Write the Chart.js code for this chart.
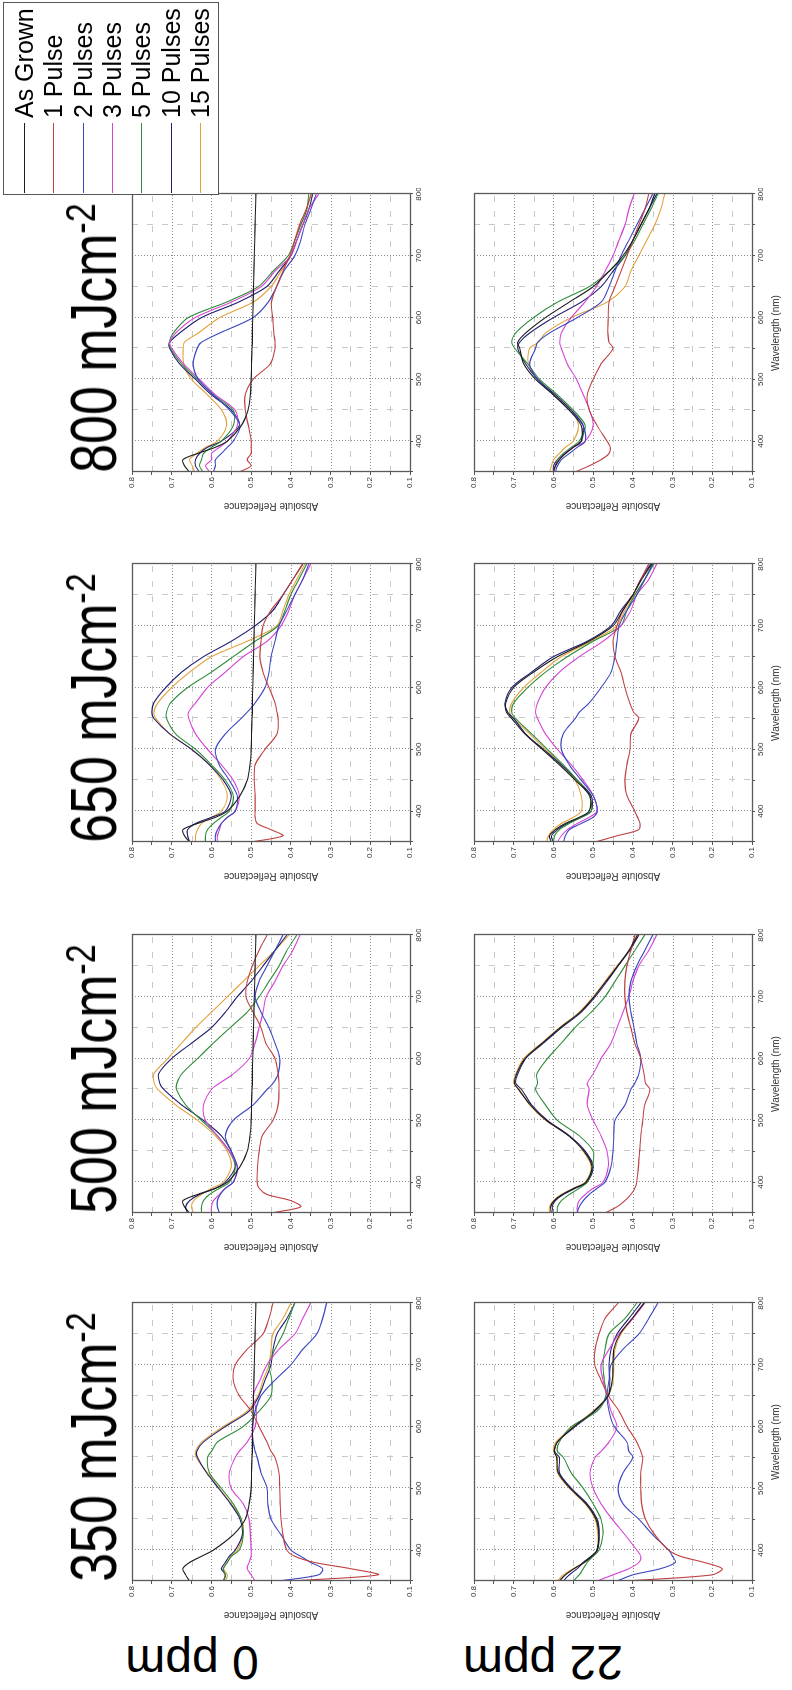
<!DOCTYPE html>
<html lang="en">
<head>
<meta charset="UTF-8">
<title>Absolute reflectance after laser pulses</title>
<script src="https://cdn.jsdelivr.net/npm/chart.js"></script>
<style>
  html, body { margin: 0; padding: 0; background: #fff; }
  body {
    width: 792px; height: 1690px; overflow: hidden; position: relative;
    font-family: Arial, "Liberation Sans", sans-serif; color: #000;
  }
  /* figure is laid out landscape, then turned a quarter turn */
  #figure {
    position: absolute; left: 0; top: 0;
    width: 1690px; height: 792px;
    transform-origin: 0 0;
    transform: translate(0px, 1690px) rotate(-90deg);
  }
  .panel { position: absolute; }
  .fluence {
    position: absolute; top: 62px;
    font-size: 64px; line-height: 64px; white-space: nowrap;
    transform: translateX(-50%) scaleX(0.81);
  }
  .fluence .sup { font-size: 42px; position: relative; top: -21px; }
  .ppm {
    position: absolute; font-size: 48px; line-height: 48px; white-space: nowrap;
    transform: translate(-50%, -50%) rotate(-90deg);
  }
  #legend {
    position: absolute; left: 1495px; top: 3px; width: 193px; height: 216px;
    border: 1px solid #555; box-sizing: border-box; background: #fff;
  }
  #legend .item { position: absolute; left: 0; height: 28px; width: 100%; }
  #legend .swatch { position: absolute; left: 1px; top: 14px; width: 70px; height: 1px; }
  #legend .name { position: absolute; left: 76px; top: 0; font-size: 25px; line-height: 28px; white-space: nowrap; }
</style>
</head>
<body>
<div id="figure"></div>

<script>
// wavelength samples (nm) shared by every curve
const wavelengths = [350, 360, 370, 380, 390, 400, 425, 450, 475, 500, 525, 550, 560, 575, 600, 625, 650, 675, 700, 725, 750, 775, 800];

const seriesNames = ['As Grown', '1 Pulse', '2 Pulses', '3 Pulses', '5 Pulses', '10 Pulses', '15 Pulses'];
const seriesColors = ['#1c1c1c', '#bf4040', '#3b46c2', '#d642d6', '#2f8c3a', '#1f1f70', '#e3a23c'];

const fluences = ['350', '500', '650', '800'];
const dopings = ['0 ppm', '22 ppm'];

// reflectance, one row per series in seriesNames order
const ppm0_350 = [
  [0.655, 0.665, 0.672, 0.655, 0.625, 0.595, 0.545, 0.515, 0.505, 0.5, 0.499, 0.498, 0.497, 0.497, 0.496, 0.495, 0.494, 0.493, 0.492, 0.491, 0.49, 0.489, 0.488],
  [0.4, 0.18, 0.25, 0.34, 0.39, 0.41, 0.42, 0.425, 0.427, 0.428, 0.43, 0.44, 0.45, 0.46, 0.48, 0.5, 0.53, 0.545, 0.54, 0.51, 0.47, 0.455, 0.445],
  [0.43, 0.33, 0.32, 0.35, 0.375, 0.4, 0.425, 0.45, 0.458, 0.46, 0.475, 0.485, 0.49, 0.495, 0.497, 0.49, 0.475, 0.44, 0.4, 0.37, 0.335, 0.32, 0.31],
  [0.49, 0.5, 0.51, 0.505, 0.5, 0.5, 0.502, 0.505, 0.52, 0.55, 0.555, 0.54, 0.53, 0.51, 0.49, 0.487, 0.495, 0.478, 0.46, 0.43, 0.39, 0.37, 0.35],
  [0.57, 0.565, 0.57, 0.56, 0.55, 0.53, 0.52, 0.525, 0.545, 0.575, 0.605, 0.61, 0.6, 0.585, 0.52, 0.48, 0.45, 0.448, 0.455, 0.44, 0.42, 0.405, 0.39],
  [0.57, 0.565, 0.575, 0.565, 0.555, 0.54, 0.522, 0.528, 0.552, 0.582, 0.612, 0.635, 0.637, 0.62, 0.565, 0.505, 0.48, 0.465, 0.45, 0.445, 0.435, 0.41, 0.39],
  [0.565, 0.56, 0.57, 0.56, 0.55, 0.535, 0.52, 0.525, 0.55, 0.58, 0.61, 0.638, 0.64, 0.625, 0.57, 0.51, 0.483, 0.47, 0.455, 0.45, 0.445, 0.42, 0.4]
];
const ppm22_350 = [
  [0.585, 0.57, 0.548, 0.522, 0.503, 0.49, 0.486, 0.493, 0.518, 0.558, 0.588, 0.592, 0.598, 0.59, 0.548, 0.498, 0.462, 0.452, 0.45, 0.448, 0.432, 0.402, 0.372],
  [0.42, 0.2, 0.175, 0.22, 0.28, 0.31, 0.345, 0.368, 0.378, 0.38, 0.38, 0.375, 0.38, 0.39, 0.415, 0.435, 0.462, 0.48, 0.496, 0.495, 0.485, 0.47, 0.437],
  [0.44, 0.4, 0.33, 0.293, 0.3, 0.31, 0.35, 0.385, 0.425, 0.437, 0.425, 0.4, 0.41, 0.415, 0.447, 0.46, 0.465, 0.46, 0.455, 0.425, 0.385, 0.36, 0.337],
  [0.49, 0.45, 0.41, 0.385, 0.38, 0.39, 0.42, 0.452, 0.48, 0.5, 0.508, 0.495, 0.48, 0.46, 0.44, 0.455, 0.465, 0.475, 0.48, 0.46, 0.435, 0.4, 0.37],
  [0.55, 0.535, 0.525, 0.515, 0.5, 0.485, 0.475, 0.48, 0.5, 0.525, 0.555, 0.575, 0.59, 0.585, 0.555, 0.49, 0.468, 0.472, 0.475, 0.47, 0.46, 0.42, 0.39],
  [0.575, 0.56, 0.54, 0.525, 0.505, 0.49, 0.485, 0.49, 0.515, 0.555, 0.585, 0.585, 0.597, 0.59, 0.545, 0.495, 0.462, 0.458, 0.46, 0.455, 0.44, 0.41, 0.38],
  [0.59, 0.575, 0.55, 0.525, 0.505, 0.49, 0.488, 0.495, 0.52, 0.56, 0.59, 0.59, 0.6, 0.594, 0.55, 0.5, 0.462, 0.45, 0.448, 0.445, 0.43, 0.4, 0.37]
];
const ppm0_500 = [
  [0.655, 0.668, 0.672, 0.635, 0.59, 0.56, 0.528, 0.51, 0.503, 0.5, 0.499, 0.498, 0.497, 0.497, 0.496, 0.495, 0.494, 0.493, 0.492, 0.491, 0.49, 0.489, 0.488],
  [0.45, 0.375, 0.4, 0.46, 0.48, 0.485, 0.484, 0.48, 0.472, 0.445, 0.432, 0.43, 0.43, 0.432, 0.44, 0.463, 0.475, 0.495, 0.513, 0.51, 0.497, 0.48, 0.46],
  [0.58, 0.585, 0.585, 0.578, 0.565, 0.545, 0.535, 0.55, 0.565, 0.545, 0.495, 0.46, 0.445, 0.432, 0.428, 0.44, 0.455, 0.475, 0.49, 0.48, 0.46, 0.44, 0.42],
  [0.6, 0.6, 0.595, 0.58, 0.565, 0.545, 0.535, 0.555, 0.585, 0.615, 0.62, 0.6, 0.58, 0.545, 0.505, 0.49, 0.48, 0.47, 0.462, 0.44, 0.42, 0.395, 0.377],
  [0.625, 0.625, 0.62, 0.605, 0.58, 0.555, 0.54, 0.555, 0.585, 0.625, 0.665, 0.688, 0.687, 0.675, 0.635, 0.595, 0.553, 0.51, 0.48, 0.455, 0.43, 0.41, 0.385],
  [0.66, 0.665, 0.655, 0.63, 0.59, 0.565, 0.54, 0.55, 0.575, 0.62, 0.675, 0.72, 0.73, 0.733, 0.7, 0.65, 0.6, 0.565, 0.535, 0.5, 0.47, 0.44, 0.41],
  [0.645, 0.65, 0.645, 0.625, 0.6, 0.57, 0.55, 0.56, 0.59, 0.635, 0.69, 0.735, 0.744, 0.745, 0.71, 0.675, 0.64, 0.6, 0.56, 0.52, 0.48, 0.44, 0.405]
];
const ppm22_500 = [
  [0.605, 0.607, 0.598, 0.578, 0.548, 0.518, 0.503, 0.523, 0.562, 0.618, 0.658, 0.688, 0.698, 0.693, 0.672, 0.628, 0.583, 0.533, 0.498, 0.468, 0.438, 0.41, 0.388],
  [0.47, 0.44, 0.42, 0.405, 0.395, 0.39, 0.386, 0.383, 0.38, 0.375, 0.37, 0.357, 0.368, 0.372, 0.38, 0.395, 0.405, 0.415, 0.42, 0.42, 0.415, 0.405, 0.395],
  [0.54, 0.535, 0.525, 0.51, 0.49, 0.47, 0.455, 0.45, 0.448, 0.445, 0.42, 0.405, 0.395, 0.385, 0.38, 0.39, 0.397, 0.405, 0.41, 0.405, 0.39, 0.37, 0.35],
  [0.54, 0.54, 0.535, 0.52, 0.5, 0.475, 0.462, 0.465, 0.48, 0.5, 0.515, 0.51, 0.515, 0.5, 0.48, 0.455, 0.44, 0.425, 0.41, 0.4, 0.385, 0.36, 0.34],
  [0.59, 0.59, 0.58, 0.56, 0.535, 0.515, 0.502, 0.5, 0.535, 0.59, 0.62, 0.645, 0.64, 0.642, 0.615, 0.58, 0.546, 0.505, 0.47, 0.445, 0.42, 0.395, 0.37],
  [0.6, 0.603, 0.595, 0.575, 0.545, 0.515, 0.5, 0.52, 0.56, 0.615, 0.655, 0.68, 0.695, 0.69, 0.67, 0.625, 0.58, 0.53, 0.495, 0.465, 0.437, 0.408, 0.385],
  [0.61, 0.61, 0.6, 0.58, 0.55, 0.52, 0.505, 0.525, 0.56, 0.62, 0.66, 0.685, 0.7, 0.695, 0.675, 0.63, 0.585, 0.535, 0.5, 0.47, 0.44, 0.41, 0.39]
];
const ppm0_650 = [
  [0.655, 0.668, 0.672, 0.635, 0.59, 0.56, 0.528, 0.51, 0.503, 0.5, 0.499, 0.498, 0.497, 0.497, 0.496, 0.495, 0.494, 0.493, 0.492, 0.491, 0.49, 0.489, 0.488],
  [0.5, 0.42, 0.45, 0.485, 0.49, 0.49, 0.49, 0.492, 0.49, 0.465, 0.435, 0.432, 0.435, 0.44, 0.455, 0.47, 0.478, 0.475, 0.47, 0.45, 0.42, 0.395, 0.37],
  [0.59, 0.59, 0.585, 0.575, 0.56, 0.54, 0.535, 0.555, 0.58, 0.59, 0.565, 0.525, 0.51, 0.49, 0.465, 0.455, 0.45, 0.44, 0.43, 0.41, 0.39, 0.37, 0.355],
  [0.585, 0.585, 0.58, 0.575, 0.56, 0.54, 0.53, 0.545, 0.575, 0.61, 0.64, 0.657, 0.658, 0.64, 0.61, 0.565, 0.52, 0.46, 0.425, 0.405, 0.39, 0.37, 0.35],
  [0.615, 0.615, 0.61, 0.595, 0.575, 0.555, 0.545, 0.565, 0.6, 0.64, 0.69, 0.713, 0.713, 0.703, 0.66, 0.6, 0.545, 0.49, 0.432, 0.415, 0.4, 0.38, 0.36],
  [0.655, 0.66, 0.66, 0.64, 0.6, 0.565, 0.55, 0.57, 0.605, 0.65, 0.705, 0.745, 0.75, 0.745, 0.715, 0.675, 0.62, 0.55, 0.49, 0.445, 0.42, 0.395, 0.37],
  [0.64, 0.64, 0.635, 0.625, 0.6, 0.575, 0.56, 0.575, 0.605, 0.65, 0.705, 0.74, 0.745, 0.735, 0.7, 0.655, 0.6, 0.51, 0.435, 0.42, 0.405, 0.385, 0.365]
];
const ppm22_650 = [
  [0.605, 0.61, 0.595, 0.57, 0.535, 0.51, 0.508, 0.545, 0.585, 0.628, 0.672, 0.705, 0.718, 0.72, 0.7, 0.65, 0.59, 0.51, 0.45, 0.425, 0.4, 0.378, 0.352],
  [0.495, 0.44, 0.385, 0.382, 0.388, 0.395, 0.415, 0.42, 0.415, 0.407, 0.405, 0.385, 0.398, 0.408, 0.42, 0.43, 0.445, 0.45, 0.44, 0.425, 0.4, 0.38, 0.36],
  [0.575, 0.57, 0.56, 0.53, 0.5, 0.49, 0.5, 0.53, 0.56, 0.58, 0.575, 0.545, 0.535, 0.51, 0.48, 0.455, 0.445, 0.44, 0.435, 0.415, 0.39, 0.37, 0.35],
  [0.59, 0.58, 0.565, 0.54, 0.51, 0.49, 0.5, 0.525, 0.555, 0.59, 0.62, 0.64, 0.645, 0.64, 0.62, 0.585, 0.535, 0.475, 0.43, 0.405, 0.39, 0.36, 0.34],
  [0.6, 0.597, 0.585, 0.56, 0.53, 0.505, 0.51, 0.54, 0.575, 0.615, 0.655, 0.695, 0.705, 0.7, 0.665, 0.62, 0.565, 0.5, 0.43, 0.415, 0.395, 0.37, 0.347],
  [0.6, 0.605, 0.59, 0.565, 0.53, 0.505, 0.505, 0.54, 0.58, 0.625, 0.67, 0.7, 0.715, 0.722, 0.705, 0.655, 0.6, 0.515, 0.455, 0.43, 0.4, 0.38, 0.355],
  [0.617, 0.613, 0.6, 0.58, 0.55, 0.53, 0.53, 0.545, 0.58, 0.62, 0.66, 0.7, 0.71, 0.705, 0.675, 0.63, 0.58, 0.505, 0.44, 0.42, 0.395, 0.37, 0.35]
];
const ppm0_800 = [
  [0.655, 0.668, 0.672, 0.635, 0.59, 0.56, 0.525, 0.508, 0.502, 0.5, 0.499, 0.498, 0.497, 0.497, 0.496, 0.495, 0.494, 0.493, 0.492, 0.491, 0.49, 0.489, 0.488],
  [0.53, 0.5, 0.51, 0.5, 0.5, 0.5, 0.507, 0.515, 0.515, 0.495, 0.452, 0.44, 0.44, 0.443, 0.446, 0.449, 0.436, 0.42, 0.403, 0.39, 0.378, 0.362, 0.348],
  [0.595, 0.59, 0.59, 0.575, 0.56, 0.545, 0.528, 0.554, 0.595, 0.633, 0.646, 0.636, 0.625, 0.579, 0.495, 0.457, 0.436, 0.418, 0.39, 0.375, 0.365, 0.35, 0.336],
  [0.604, 0.615, 0.6, 0.6, 0.58, 0.56, 0.535, 0.54, 0.59, 0.63, 0.67, 0.7, 0.705, 0.69, 0.641, 0.55, 0.475, 0.44, 0.4, 0.385, 0.37, 0.355, 0.33],
  [0.621, 0.63, 0.625, 0.62, 0.6, 0.575, 0.545, 0.545, 0.595, 0.635, 0.675, 0.703, 0.706, 0.696, 0.658, 0.562, 0.482, 0.445, 0.407, 0.39, 0.375, 0.36, 0.355],
  [0.63, 0.64, 0.64, 0.63, 0.61, 0.575, 0.53, 0.55, 0.6, 0.64, 0.68, 0.705, 0.705, 0.68, 0.625, 0.532, 0.461, 0.43, 0.4, 0.385, 0.37, 0.355, 0.345],
  [0.642, 0.648, 0.655, 0.637, 0.615, 0.585, 0.562, 0.574, 0.61, 0.65, 0.67, 0.671, 0.668, 0.633, 0.579, 0.495, 0.45, 0.425, 0.4, 0.39, 0.375, 0.36, 0.35]
];
const ppm22_800 = [
  [0.6, 0.595, 0.585, 0.57, 0.55, 0.53, 0.53, 0.56, 0.6, 0.645, 0.675, 0.685, 0.69, 0.67, 0.62, 0.56, 0.5, 0.46, 0.425, 0.4, 0.38, 0.36, 0.345],
  [0.545, 0.51, 0.48, 0.46, 0.457, 0.465, 0.49, 0.51, 0.515, 0.5, 0.48, 0.45, 0.46, 0.463, 0.462, 0.46, 0.445, 0.43, 0.415, 0.4, 0.385, 0.37, 0.36],
  [0.595, 0.59, 0.58, 0.56, 0.54, 0.52, 0.525, 0.56, 0.6, 0.64, 0.66, 0.645, 0.64, 0.61, 0.54, 0.48, 0.46, 0.445, 0.43, 0.41, 0.39, 0.37, 0.35],
  [0.6, 0.595, 0.585, 0.57, 0.55, 0.52, 0.5, 0.509, 0.525, 0.542, 0.565, 0.58, 0.584, 0.58, 0.555, 0.521, 0.492, 0.47, 0.45, 0.435, 0.42, 0.41, 0.397],
  [0.6, 0.595, 0.59, 0.575, 0.555, 0.535, 0.52, 0.55, 0.59, 0.635, 0.665, 0.697, 0.705, 0.695, 0.65, 0.59, 0.51, 0.46, 0.42, 0.395, 0.375, 0.355, 0.337],
  [0.6, 0.6, 0.59, 0.57, 0.55, 0.53, 0.525, 0.555, 0.595, 0.64, 0.67, 0.69, 0.685, 0.66, 0.6, 0.53, 0.48, 0.45, 0.42, 0.4, 0.38, 0.36, 0.34],
  [0.61, 0.605, 0.6, 0.585, 0.57, 0.55, 0.537, 0.555, 0.6, 0.64, 0.663, 0.66, 0.638, 0.62, 0.555, 0.465, 0.42, 0.405, 0.385, 0.365, 0.345, 0.33, 0.32]
];

const panelData = {
  '350': [ppm0_350, ppm22_350],
  '500': [ppm0_500, ppm22_500],
  '650': [ppm0_650, ppm22_650],
  '800': [ppm0_800, ppm22_800]
};

// layout of the landscape figure (before the quarter turn)
const colLeft = [109, 477, 848, 1218];   // plot area left edge per fluence
const rowTop = [132, 474];               // plot area top edge per doping
const AREA = 278;
const AXIS_W = 41, AXIS_H = 30, PAD_T = 6, PAD_R = 6;
const FONT = 'Arial, "Liberation Sans", sans-serif';

const fig = document.getElementById('figure');

// dotted major grid, dashed minor grid, and a closed frame
const paperGrid = {
  id: 'paperGrid',
  beforeDatasetsDraw(chart) {
    const { ctx, chartArea: a, scales: { x, y } } = chart;
    ctx.save();
    ctx.lineWidth = 1;
    const vline = px => { px = Math.round(px) + 0.5; ctx.beginPath(); ctx.moveTo(px, a.top); ctx.lineTo(px, a.bottom); ctx.stroke(); };
    const hline = py => { py = Math.round(py) + 0.5; ctx.beginPath(); ctx.moveTo(a.left, py); ctx.lineTo(a.right, py); ctx.stroke(); };
    const xMinor = [], xMajor = [], yMinor = [], yMajor = [];
    x.ticks.forEach(t => {
      if (t.value <= x.min || t.value >= x.max) return;
      (t.value % 100 === 0 ? xMajor : xMinor).push(t.value);
    });
    y.ticks.forEach(t => {
      const k = Math.round(t.value * 100);
      if (k <= 10 || k >= 80) return;
      (k % 10 === 0 ? yMajor : yMinor).push(t.value);
    });
    ctx.strokeStyle = '#c8c8c8';
    ctx.setLineDash([6, 9]);
    xMinor.forEach(v => vline(x.getPixelForValue(v)));
    yMinor.forEach(v => hline(y.getPixelForValue(v)));
    ctx.strokeStyle = '#8c8c8c';
    ctx.setLineDash([1, 2]);
    xMajor.forEach(v => vline(x.getPixelForValue(v)));
    yMajor.forEach(v => hline(y.getPixelForValue(v)));
    ctx.restore();
  },
  afterDatasetsDraw(chart) {
    const { ctx, chartArea: a } = chart;
    ctx.save();
    ctx.strokeStyle = '#5a5a5a';
    ctx.lineWidth = 1.3;
    ctx.strokeRect(Math.round(a.left) + 0.5, Math.round(a.top) + 0.5, Math.round(a.right - a.left), Math.round(a.bottom - a.top));
    ctx.restore();
  }
};

function makePanel(rows, areaLeft, areaTop, showXTitle) {
  const canvas = document.createElement('canvas');
  canvas.className = 'panel';
  canvas.width = AXIS_W + AREA + PAD_R;
  canvas.height = PAD_T + AREA + AXIS_H;
  canvas.style.left = (areaLeft - AXIS_W) + 'px';
  canvas.style.top = (areaTop - PAD_T) + 'px';
  fig.appendChild(canvas);

  const datasets = rows.map((vals, i) => ({
    label: seriesNames[i],
    data: wavelengths.map((w, j) => ({ x: w, y: vals[j] })),
    borderColor: seriesColors[i],
    borderWidth: 1.1,
    pointRadius: 0,
    tension: 0.3,
    fill: false
  }));

  new Chart(canvas, {
    type: 'line',
    data: { datasets },
    plugins: [paperGrid],
    options: {
      responsive: false,
      animation: false,
      events: [],
      layout: { padding: { top: PAD_T, right: PAD_R, left: 0, bottom: 0 } },
      plugins: { legend: { display: false }, tooltip: { enabled: false } },
      scales: {
        x: {
          type: 'linear', min: 350, max: 800,
          ticks: {
            stepSize: 50, autoSkip: false, maxRotation: 0, padding: 1,
            color: '#333', font: { family: FONT, size: 8 },
            callback: v => (v % 100 === 0 ? String(v) : '')
          },
          grid: { drawOnChartArea: false, tickLength: 3, tickColor: '#555' },
          border: { color: '#5a5a5a' },
          title: {
            display: showXTitle, text: 'Wavelength (nm)', color: '#333', padding: 0,
            font: { family: FONT, size: 10 }
          },
          afterFit: s => { s.height = AXIS_H; s.paddingLeft = 0; s.paddingRight = 0; }
        },
        y: {
          type: 'linear', min: 0.1, max: 0.8,
          ticks: {
            stepSize: 0.05, autoSkip: false, padding: 2,
            color: '#333', font: { family: FONT, size: 8 },
            callback: v => (Math.round(v * 100) % 10 === 0 ? v.toFixed(1) : '')
          },
          grid: { drawOnChartArea: false, tickLength: 3, tickColor: '#555' },
          border: { color: '#5a5a5a' },
          title: {
            display: true, text: 'Absolute Reflectance', color: '#333', padding: 1,
            font: { family: FONT, size: 10 }
          },
          afterFit: s => { s.width = AXIS_W; s.paddingTop = 0; s.paddingBottom = 0; }
        }
      }
    }
  });
}

fluences.forEach((f, c) => {
  panelData[f].forEach((rows, r) => makePanel(rows, colLeft[c], rowTop[r], r === 1));

  const title = document.createElement('div');
  title.className = 'fluence';
  title.style.left = (colLeft[c] + AREA / 2 - 5) + 'px';
  title.innerHTML = f + ' mJcm<span class="sup">-2</span>';
  fig.appendChild(title);
});

// row labels on the left of each row
const ppmCenters = [192, 543];
dopings.forEach((d, r) => {
  const el = document.createElement('div');
  el.className = 'ppm';
  el.style.left = '28px';
  el.style.top = ppmCenters[r] + 'px';
  el.textContent = d;
  fig.appendChild(el);
});

// legend box
const legend = document.createElement('div');
legend.id = 'legend';
seriesNames.forEach((name, i) => {
  const item = document.createElement('div');
  item.className = 'item';
  item.style.top = (6 + 29.3 * i) + 'px';
  item.innerHTML = '<span class="swatch" style="background:' + seriesColors[i] + '"></span><span class="name">' + name + '</span>';
  legend.appendChild(item);
});
fig.appendChild(legend);
</script>
</body>
</html>
